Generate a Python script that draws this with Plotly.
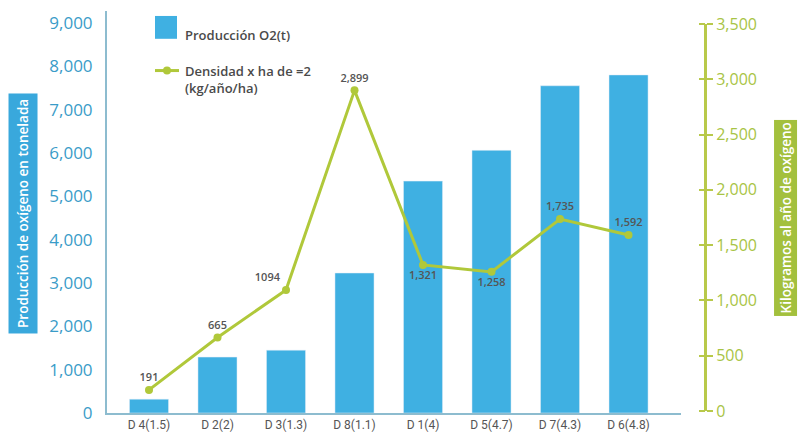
import plotly.graph_objects as go

categories = ["D 4(1.5)", "D 2(2)", "D 3(1.3)", "D 8(1.1)", "D 1(4)", "D 5(4.7)", "D 7(4.3)", "D 6(4.8)"]
produccion = [320, 1290, 1450, 3230, 5350, 6060, 7550, 7800]
densidad = [191, 665, 1094, 2899, 1321, 1258, 1735, 1592]
densidad_labels = ["191", "665", "1094", "2,899", "1,321", "1,258", "1,735", "1,592"]
label_pos = ["top center", "top center", "top left", "top center",
             "bottom center", "bottom center", "top center", "top center"]
left_ticks = [0, 1000, 2000, 3000, 4000, 5000, 6000, 7000, 8000, 9000]
right_ticks = [0, 500, 1000, 1500, 2000, 2500, 3000, 3500]

BLUE = "#3fb0e2"
GREEN = "#b0c83a"
GREY = "#555555"

# plot area in pixels
L, R, T, B = 107, 800, 8, 413
def px(x):
    return (x - L) / (R - L)
def py(y):
    return (B - y) / (B - T)

xs = list(range(len(categories)))

fig = go.Figure()
fig.add_trace(go.Bar(x=xs, y=produccion, marker_color=BLUE, width=0.57,
                     xaxis="x", yaxis="y", showlegend=False))
fig.add_trace(go.Scatter(x=xs, y=densidad, xaxis="x", yaxis="y2", mode="lines+markers+text",
                         line=dict(color=GREEN, width=3),
                         marker=dict(color=GREEN, size=8),
                         text=densidad_labels, textposition=label_pos,
                         textfont=dict(size=11, color=GREY, family="Open Sans", weight=600),
                         cliponaxis=False, showlegend=False))
# invisible helper so the left-facing tick-mark axis is drawn
fig.add_trace(go.Scatter(x=[0], y=[0], xaxis="x", yaxis="y3", mode="markers",
                         marker=dict(opacity=0, size=1), showlegend=False,
                         hoverinfo="skip"))

right_dom = [py(411), py(21)]
fig.update_layout(
    width=800, height=437,
    margin=dict(l=L, r=800 - R, t=T, b=437 - B),
    plot_bgcolor="rgba(0,0,0,0)", paper_bgcolor="white",
    font=dict(family="Open Sans", color=GREY),
    xaxis=dict(domain=[0, px(681)], range=[-0.613, 7.766],
               tickmode="array", tickvals=xs, ticktext=categories,
               tickfont=dict(size=12, color=GREY, family="Liberation Sans Narrow, Roboto"),
               showline=True, linecolor="#8dbccf", linewidth=2,
               showgrid=False, zeroline=False, ticks=""),
    yaxis=dict(domain=[0, 1], range=[0, 9275], tickvals=left_ticks,
               tickformat=",d", tickfont=dict(size=17, color="#3a9cc8"),
               showline=True, linecolor="#8dbccf", linewidth=2,
               showgrid=False, zeroline=False, ticks="", ticklabelstandoff=9),
    yaxis2=dict(domain=right_dom, range=[0, 3500], tickvals=right_ticks,
                tickformat=",d", tickfont=dict(size=16, color="#a8c445"),
                anchor="free", position=px(705), side="right",
                showline=True, linecolor="#b8c94a", linewidth=3,
                ticks="outside", ticklen=6, tickwidth=2, tickcolor="#b8c94a",
                showgrid=False, zeroline=False),
    yaxis3=dict(domain=right_dom, range=[0, 3500], tickvals=right_ticks,
                anchor="free", position=px(705), side="left",
                showline=False, showticklabels=False,
                ticks="outside", ticklen=6, tickwidth=2, tickcolor="#b8c94a",
                showgrid=False, zeroline=False),
)

# legend (custom)
fig.add_shape(type="rect", xref="paper", yref="paper",
              x0=px(155), x1=px(177), y0=py(36), y1=py(13),
              fillcolor=BLUE, line=dict(width=0))
fig.add_shape(type="line", xref="paper", yref="paper",
              x0=px(155), x1=px(179), y0=py(68), y1=py(68),
              line=dict(color=GREEN, width=3))
fig.add_shape(type="circle", xref="paper", yref="paper",
              x0=px(163), x1=px(171), y0=py(72), y1=py(64),
              fillcolor=GREEN, line=dict(width=0))
fig.add_annotation(xref="paper", yref="paper", x=px(183), y=py(32),
                   text="Producción O2(t)", showarrow=False, xanchor="left", yanchor="middle",
                   font=dict(size=13, color="#4a4a4a", weight=600))
fig.add_annotation(xref="paper", yref="paper", x=px(183), y=py(77),
                   text="Densidad x ha de =2<br>(kg/año/ha)", showarrow=False,
                   xanchor="left", yanchor="middle", align="left",
                   font=dict(size=13, color="#4a4a4a", weight=600))

# axis title boxes
fig.add_annotation(xref="paper", yref="paper", x=px(23.5), y=py(212),
                   xanchor="center", yanchor="middle",
                   text="Producción de oxígeno en tonelada", textangle=-90, showarrow=False,
                   bgcolor="#39a8dc", borderpad=5,
                   font=dict(size=13.5, color="white", weight=600))
fig.add_annotation(xref="paper", yref="paper", x=px(786), y=py(217),
                   xanchor="center", yanchor="middle",
                   text="Kilogramos al año de oxígeno", textangle=-90, showarrow=False,
                   bgcolor="#a3c03d", borderpad=2,
                   font=dict(size=13.5, color="white", weight=600))

fig.write_html("out.html")
